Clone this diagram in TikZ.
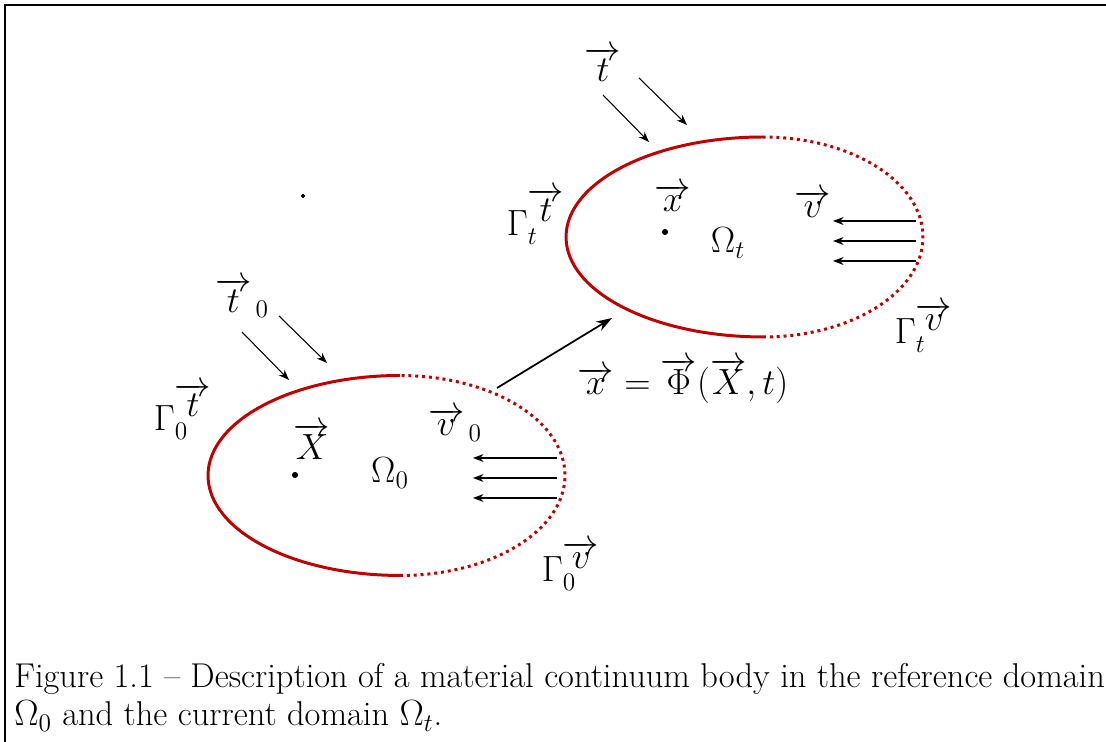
\documentclass[tikz,border=0pt]{standalone}
\usepackage{tikz}
\usetikzlibrary{arrows.meta}
\definecolor{bodyred}{RGB}{192,0,0}
\tikzset{
  solidedge/.style={color=bodyred, line width=1.7pt},
  dotedge/.style={color=bodyred, line width=1.7pt, dash pattern=on 1.7pt off 2.2pt},
  force/.style={-{Stealth[length=6pt,width=4.5pt]}, line width=0.6pt},
  lab/.style={font=\fontsize{21}{25}\selectfont, inner sep=0pt},
  captext/.style={anchor=base west, inner sep=0pt, font=\fontsize{19.6}{23}\selectfont}
}

\begin{document}
\begin{tikzpicture}[x=0.02cm, y=-0.02cm]
\useasboundingbox (0,0) rectangle (1106,742);
\draw[line width=0.8pt] (5,742) -- (5,5) -- (1106,5);
\filldraw[black] (303,196) circle (1pt);

% reference domain
\draw[solidedge] (400,375.5) arc[start angle=90, end angle=270, x radius=3.84cm, y radius=2cm];
\draw[dotedge] (400,575.5) arc[start angle=-90, end angle=90, x radius=3.3cm, y radius=2cm];
\filldraw[black] (295,475) circle (1.5pt);
\draw[force] (242,332) -- (289,380);
\draw[force] (279,316) -- (327,363);
\foreach \y in {458,478,498}
  \draw[force] (557,\y) -- (473,\y);

% current domain
\draw[solidedge] (763,137) arc[start angle=90, end angle=270, x radius=3.94cm, y radius=2cm];
\draw[dotedge] (763,337) arc[start angle=-90, end angle=90, x radius=3.2cm, y radius=2cm];
\filldraw[black] (665,232) circle (1.5pt);
\draw[force] (603,95) -- (649,142);
\draw[force] (639,78) -- (687,125);
\foreach \y in {221,241,261}
  \draw[force] (916,\y) -- (833,\y);

% mapping
\coordinate (from0) at (497,388);
\coordinate (tot) at (612,318);
\draw[-{Stealth[length=9pt,width=6pt]}, line width=1pt] (from0) -- (tot);

\node[lab] (gam0t) at (183,411) {$\Gamma_0^{\overrightarrow{t}}$};
\node[lab] (t0) at (242,298) {$\overrightarrow{t}_{\,0}$};
\node[lab] (X) at (312,441) {$\overrightarrow{X}$};
\node[lab] (om0) at (390,473) {$\Omega_0$};
\node[lab] (v0) at (455,425) {$\overrightarrow{v}_{\,0}$};
\node[lab] (gam0v) at (571,566) {$\Gamma_0^{\overrightarrow{v}}$};

\node[lab] (tt) at (603,64) {$\overrightarrow{t}$};
\node[lab] (gamtt) at (536,216) {$\Gamma_t^{\overrightarrow{t}}$};
\node[lab] (x) at (673,198) {$\overrightarrow{x}$};
\node[lab] (omt) at (728,243) {$\Omega_t$};
\node[lab] (v) at (813,204) {$\overrightarrow{v}$};
\node[lab] (gamtv) at (924,328) {$\Gamma_t^{\overrightarrow{v}}$};

\node[lab] (phi) at (683,381) {$\overrightarrow{x}=\overrightarrow{\Phi}(\overrightarrow{X},t)$};

\node[captext] (cap1) at (14,688) {Figure 1.1 -- Description of a material continuum body in the reference domain};
\node[captext] (cap2) at (14,726) {$\Omega_0$ and the current domain $\Omega_t$.};
\end{tikzpicture}
\end{document}
